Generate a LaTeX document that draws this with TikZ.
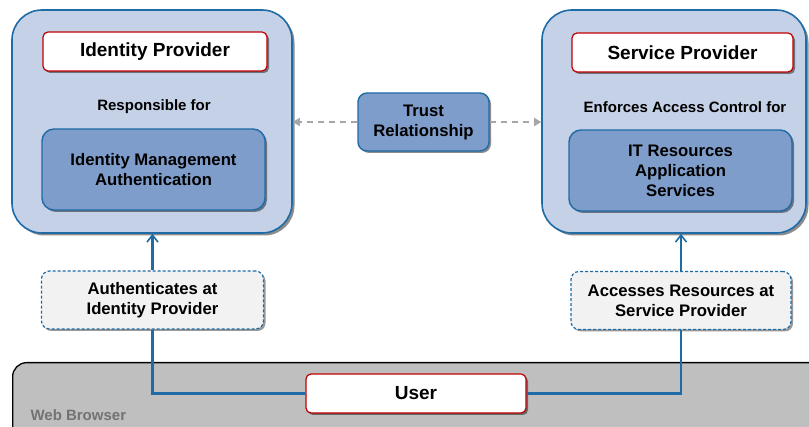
\documentclass[tikz,border=0pt]{standalone}
\usepackage{fontspec}
\setmainfont{Liberation Sans}
\usepackage{tikz}
\usetikzlibrary{%
  shapes, arrows.meta, calc, positioning, shadows
}
\usepackage{xcolor}
\definecolor{spBlue}{HTML}{1F6BA5}
\definecolor{spLight}{HTML}{C5D1E6}
\definecolor{spMid}{HTML}{7F9DCA}
\definecolor{spRed}{HTML}{C00000}
\definecolor{spGrey}{HTML}{BFBFBF}
\definecolor{spPale}{HTML}{F2F2F2}
\tikzstyle{party} = [%
  rectangle,
  rounded corners=30pt,
  draw=spBlue,
  line width=1.6pt,
  fill=spLight,
  inner sep=0pt,
  drop shadow={shadow xshift=2.5pt,shadow yshift=-2.5pt,fill=black,opacity=0.45}
]
\tikzstyle{titlebox} = [%
  rectangle,
  rounded corners=5pt,
  draw=spRed,
  line width=1.2pt,
  fill=white,
  minimum height=39pt,
  inner sep=0pt,
  font=\fontsize{19}{22}\selectfont\bfseries,
  drop shadow={shadow xshift=2pt,shadow yshift=-2pt,fill=black,opacity=0.45}
]
\tikzstyle{dutybox} = [%
  rectangle,
  rounded corners=12pt,
  draw=spBlue,
  line width=1.4pt,
  fill=spMid,
  inner sep=0pt,
  align=center,
  font=\fontsize{16.7}{20}\selectfont\bfseries,
  drop shadow={shadow xshift=2pt,shadow yshift=-2pt,fill=black,opacity=0.45}
]
\tikzstyle{stepbox} = [%
  rectangle,
  rounded corners=8pt,
  draw=spBlue,
  dash pattern=on 3pt off 2pt,
  line width=1.2pt,
  fill=spPale,
  inner sep=0pt,
  minimum width=222pt,
  minimum height=58pt,
  align=center,
  font=\fontsize{16.7}{20}\selectfont\bfseries,
  drop shadow={shadow xshift=2pt,shadow yshift=-2pt,fill=black,opacity=0.4}
]

\begin{document}
\begin{tikzpicture}[%
  x=1pt,y=-1pt,
  flow/.style={%
    -{Straight Barb[length=7pt,width=11pt,line width=1.6pt]},
    draw=spBlue,
    line width=2.4pt
  },
  link/.style={draw=spBlue,line width=2.4pt},
  trust/.style={%
    -{Triangle[length=7pt,width=8pt]},
    draw=black!35,
    dash pattern=on 6pt off 5pt,
    line width=2pt
  },
  caption/.style={font=\fontsize{15}{18}\selectfont\bfseries}
]
  \useasboundingbox (0,0) rectangle (809,427);

  % Web browser
  \node[rectangle,rounded corners=14pt,draw=black,line width=1.3pt,fill=spGrey,
        minimum width=818pt,minimum height=78pt,anchor=north west] (browser) at (12,362) {};
  \node[caption,text=black!55,anchor=west] (browsertext) at (27,415) {Web Browser};

  % Providers
  \node[party,minimum width=280pt,minimum height=223pt] (idp) at (152,121.5) {};
  \node[party,minimum width=264pt,minimum height=223pt] (sp) at (674,121.5) {};

  \node[titlebox,minimum width=224pt] (idptitle) at (155,51.5) {Identity Provider};
  \node[caption] (idpduty) at (154,107) {Responsible for};
  \node[dutybox,minimum width=223pt,minimum height=81pt] (idpinner) at (153.5,169.5) {Identity Management\\Authentication};

  \node[titlebox,minimum width=221pt] (sptitle) at (682.5,52.5) {Service Provider};
  \node[caption] (spduty) at (685,107) {Enforces Access Control for};
  \node[dutybox,minimum width=223pt,minimum height=81pt] (spinner) at (680.5,170.5) {IT Resources\\Application\\Services};

  % Trust
  \node[dutybox,rounded corners=9pt,minimum width=131pt,minimum height=58pt] (trust) at (423.5,122) {Trust\\Relationship};

  % Steps
  \node[stepbox] (auth) at (152.5,300) {Authenticates at\\Identity Provider};
  \node[stepbox,minimum width=220pt] (access) at (681,300.5) {Accesses Resources at\\Service Provider};

  % User
  \node[titlebox,minimum width=220pt] (user) at (416,393.5) {User};

  % Edges
  \draw[trust] (trust.west) -- (trust.west -| idp.east);
  \draw[trust] (trust.east) -- (trust.east -| sp.west);
  \draw[link] (user.west) -| (auth.south);
  \draw[link] (user.east) -| (access.south);
  \draw[flow] (auth.north) -- (auth.north |- idp.south);
  \draw[flow] (access.north) -- (access.north |- sp.south);

\end{tikzpicture}
\end{document}
